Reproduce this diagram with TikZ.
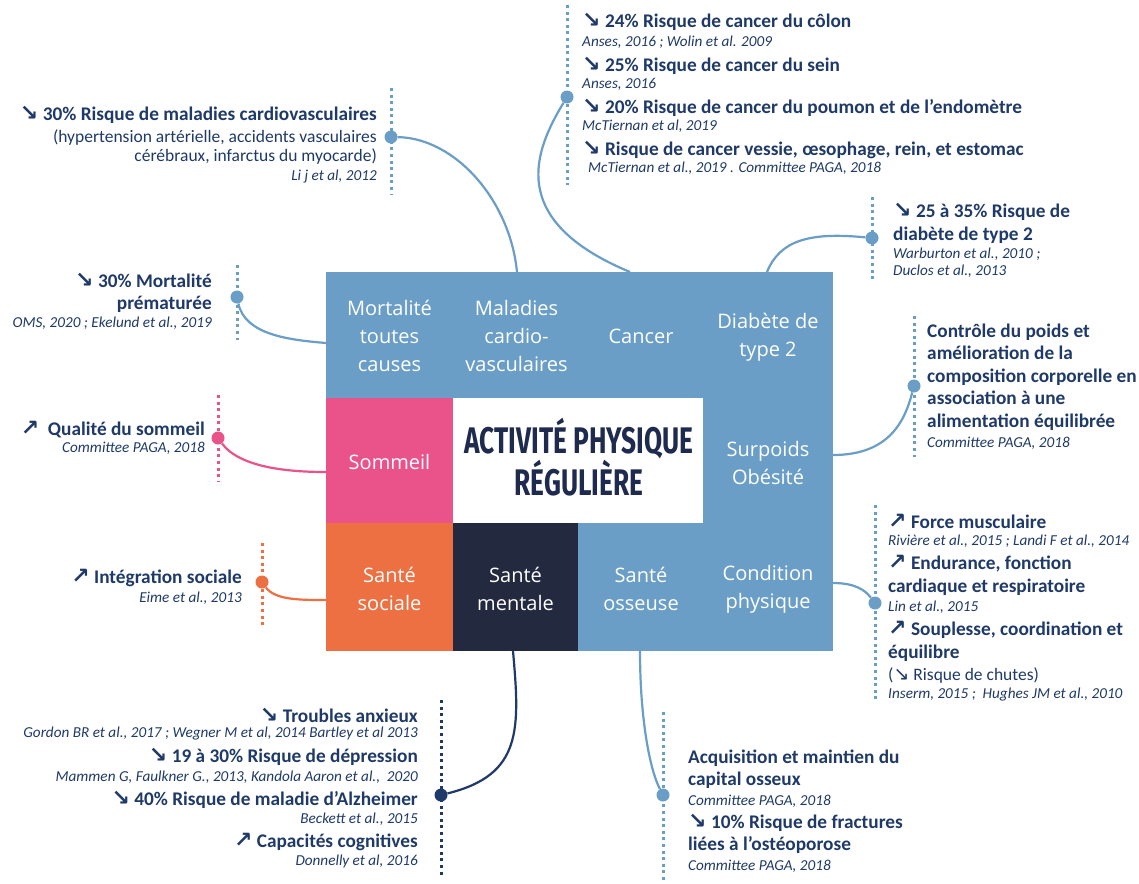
\documentclass[tikz,border=0pt]{standalone}
\usepackage{fontspec}
\setmainfont{Carlito}
\newfontfamily\boxfont{Open Sans}
\newfontfamily\arrowfont{DejaVu Sans}
\newfontfamily\titlefont{Fira Sans}
\definecolor{apblue}{HTML}{6A9EC6}
\definecolor{appink}{HTML}{E9538A}
\definecolor{aporange}{HTML}{EC7042}
\definecolor{apnavybox}{HTML}{232A40}
\definecolor{aptext}{HTML}{1F3A68}
\definecolor{aptitle}{HTML}{1E2B4F}
\newcommand\dnarr{{\arrowfont\bfseries\fontsize{22}{22}\selectfont ↘}}
\newcommand\uparr{{\arrowfont\bfseries\fontsize{22}{22}\selectfont ↗}}
\begin{document}
\begin{tikzpicture}[x=1pt,y=-1pt,
 hd/.style={font=\bfseries\fontsize{19.3}{21}\selectfont,text=aptext,inner sep=0pt},
 rg/.style={font=\fontsize{17.5}{19}\selectfont,text=aptext,inner sep=0pt},
 ct/.style={font=\itshape\fontsize{15.2}{16}\selectfont,text=aptext,inner sep=0pt},
 cell/.style={draw=none,inner sep=0pt,anchor=north west},
 lbl/.style={font=\boxfont\fontsize{20}{28}\selectfont,text=white,align=center,inner sep=0pt},
 titlestyle/.style={font=\titlefont\bfseries\fontsize{37}{42}\selectfont,text=aptitle,align=center,inner sep=0pt},
 dotline/.style={line width=3pt,dash pattern=on 3pt off 3.6pt},
 conn/.style={line width=2.2pt},
 pin/.style={circle,inner sep=0pt,minimum size=13pt},
]
\useasboundingbox (0,0) rectangle (1139,883);
\fill[white] (0,0) rectangle (1139,883);

% ---- central block ----
\node[cell,fill=apblue,minimum width=507pt,minimum height=379pt] (frame) at (326,272) {};
\node[cell,fill=appink,minimum width=127pt,minimum height=125pt] (sommeil) at (326,398) {};
\node[cell,fill=white,minimum width=250pt,minimum height=125pt] (centre) at (453,398) {};
\node[cell,fill=aporange,minimum width=127pt,minimum height=128pt] (social) at (326,523) {};
\node[cell,fill=apnavybox,minimum width=125pt,minimum height=128pt] (mental) at (453,523) {};

\node[lbl] (lMort) at (389.5,336) {Mortalité\\toutes\\causes};
\node[lbl] (lCard) at (516.5,336) {Maladies\\cardio-\\vasculaires};
\node[lbl] (lCanc) at (641,336) {Cancer};
\node[lbl] (lDiab) at (768,337) {Diabète de\\type 2};
\node[lbl] (lSom) at (389.5,462) {Sommeil};
\node[lbl] (lSurp) at (768,463) {Surpoids\\Obésité};
\node[lbl] (lSoc) at (389.5,589) {Santé\\sociale};
\node[lbl] (lMen) at (515.5,589) {Santé\\mentale};
\node[lbl] (lOss) at (641,589) {Santé\\osseuse};
\node[lbl] (lCond) at (768,589) {Condition\\physique};
\node[titlestyle] (title) at (579,457) {\scalebox{0.71}[1]{ACTIVITÉ PHYSIQUE}\\\scalebox{0.71}[1]{RÉGULIÈRE}};

% ---- edge coordinates ----
\coordinate (eCard) at (517,272);
\coordinate (eCanc) at (630,272);
\coordinate (eDiab) at (767,272);
\coordinate (eMort) at (326,343);
\coordinate (eSom) at (326,472);
\coordinate (eSoc) at (326,600);
\coordinate (eSurp) at (833,455);
\coordinate (eCond) at (833,583);
\coordinate (eMen) at (513,651);
\coordinate (eOss) at (640,651);

% ---- dotted guides ----
\coordinate (gCardT) at (391,88);  \coordinate (gCardB) at (391,195);
\coordinate (gCancT) at (567,5);   \coordinate (gCancB) at (567,185);
\coordinate (gDiabT) at (872,197); \coordinate (gDiabB) at (872,282);
\coordinate (gMortT) at (237,265); \coordinate (gMortB) at (237,340);
\coordinate (gSomT) at (218,395);  \coordinate (gSomB) at (218,482);
\coordinate (gSocT) at (262,543);  \coordinate (gSocB) at (262,628);
\coordinate (gSurpT) at (914,316); \coordinate (gSurpB) at (914,457);
\coordinate (gCondT) at (875,505); \coordinate (gCondB) at (875,702);
\coordinate (gMenT) at (441,700);  \coordinate (gMenB) at (441,878);
\coordinate (gOssT) at (663,712);  \coordinate (gOssB) at (663,883);

\draw[dotline,apblue] (gCardT) -- (gCardB);
\draw[dotline,apblue] (gCancT) -- (gCancB);
\draw[dotline,apblue] (gDiabT) -- (gDiabB);
\draw[dotline,apblue] (gMortT) -- (gMortB);
\draw[dotline,appink] (gSomT) -- (gSomB);
\draw[dotline,aporange] (gSocT) -- (gSocB);
\draw[dotline,apblue] (gSurpT) -- (gSurpB);
\draw[dotline,apblue] (gCondT) -- (gCondB);
\draw[dotline,aptext] (gMenT) -- (gMenB);
\draw[dotline,apblue] (gOssT) -- (gOssB);

% ---- pins ----
\node[pin,fill=apblue] (pCard) at (391,137) {};
\node[pin,fill=apblue] (pCanc) at (567,97) {};
\node[pin,fill=apblue] (pDiab) at (872,238) {};
\node[pin,fill=apblue] (pMort) at (237,297) {};
\node[pin,fill=appink] (pSom) at (218,438) {};
\node[pin,fill=aporange] (pSoc) at (262,582) {};
\node[pin,fill=apblue] (pSurp) at (914,386) {};
\node[pin,fill=apblue] (pCond) at (875,603) {};
\node[pin,fill=aptext] (pMen) at (441,795) {};
\node[pin,fill=apblue] (pOss) at (663,795) {};

% ---- connectors ----
\draw[conn,apblue] (pCard) .. controls (455,138) and (510,200) .. (eCard);
\draw[conn,apblue] (pCanc) .. controls (535,150) and (505,220) .. (eCanc);
\draw[conn,apblue] (pDiab) .. controls (810,232) and (780,240) .. (eDiab);
\draw[conn,apblue] (pMort) .. controls (245,335) and (290,340) .. (eMort);
\draw[conn,appink] (pSom) .. controls (240,468) and (290,472) .. (eSom);
\draw[conn,aporange] (pSoc) .. controls (275,600) and (300,600) .. (eSoc);
\draw[conn,apblue] (eSurp) .. controls (890,455) and (905,420) .. (pSurp);
\draw[conn,apblue] (eCond) .. controls (855,583) and (865,590) .. (pCond);
\draw[conn,aptext] (eMen) .. controls (520,730) and (522,775) .. (pMen);
\draw[conn,apblue] (eOss) .. controls (640,720) and (650,770) .. (pOss);

% ---- cardio ----
\node[hd,anchor=base east] (tCard1) at (377,120) {\dnarr\ 30\% Risque de maladies cardiovasculaires};
\node[rg,anchor=base east] (tCard2) at (377,142) {(hypertension artérielle, accidents vasculaires};
\node[rg,anchor=base east] (tCard3) at (377,161) {cérébraux, infarctus du myocarde)};
\node[ct,anchor=base east] (tCard4) at (377,180) {Li j et al, 2012};

% ---- cancer ----
\node[hd,anchor=base west] (tCanc1) at (582,28) {\dnarr\ 24\% Risque de cancer du côlon};
\node[ct,anchor=base west] (tCanc2) at (582,46) {Anses, 2016 ; Wolin et al. 2009};
\node[hd,anchor=base west] (tCanc3) at (582,71) {\dnarr\ 25\% Risque de cancer du sein};
\node[ct,anchor=base west] (tCanc4) at (582,88) {Anses, 2016};
\node[hd,anchor=base west] (tCanc5) at (582,113) {\dnarr\ 20\% Risque de cancer du poumon et de l'endomètre};
\node[ct,anchor=base west] (tCanc6) at (582,130) {McTiernan et al, 2019};
\node[hd,anchor=base west] (tCanc7) at (582,155) {\dnarr\ Risque de cancer vessie, œsophage, rein, et estomac};
\node[ct,anchor=base west] (tCanc8) at (588,172) {McTiernan et al., 2019 . Committee PAGA, 2018};

% ---- diabete ----
\node[hd,anchor=base west] (tDiab1) at (893,217) {\dnarr\ 25 à 35\% Risque de};
\node[hd,anchor=base west] (tDiab2) at (893,240) {diabète de type 2};
\node[ct,anchor=base west] (tDiab3) at (893,258) {Warburton et al., 2010 ;};
\node[ct,anchor=base west] (tDiab4) at (893,275) {Duclos et al., 2013};

% ---- mortalite ----
\node[hd,anchor=base east] (tMort1) at (212,287) {\dnarr\ 30\% Mortalité};
\node[hd,anchor=base east] (tMort2) at (212,309) {prématurée};
\node[ct,anchor=base east] (tMort3) at (212,327) {OMS, 2020 ; Ekelund et al., 2019};

% ---- sommeil ----
\node[hd,anchor=base east] (tSom1) at (205,435) {\uparr\ \ Qualité du sommeil};
\node[ct,anchor=base east] (tSom2) at (205,452) {Committee PAGA, 2018};

% ---- social ----
\node[hd,anchor=base east] (tSoc1) at (242,583) {\uparr\ Intégration sociale};
\node[ct,anchor=base east] (tSoc2) at (242,602) {Eime et al., 2013};

% ---- surpoids ----
\node[hd,anchor=base west] (tSurp1) at (927,337) {Contrôle du poids et};
\node[hd,anchor=base west] (tSurp2) at (927,359) {amélioration de la};
\node[hd,anchor=base west] (tSurp3) at (927,382) {composition corporelle en};
\node[hd,anchor=base west] (tSurp4) at (927,404) {association à une};
\node[hd,anchor=base west] (tSurp5) at (927,427) {alimentation équilibrée};
\node[ct,anchor=base west] (tSurp6) at (927,447) {Committee PAGA, 2018};

% ---- condition ----
\node[hd,anchor=base west] (tCond1) at (888,528) {\uparr\ Force musculaire};
\node[ct,anchor=base west] (tCond2) at (888,545) {Rivière et al., 2015 ; Landi F et al., 2014};
\node[hd,anchor=base west] (tCond3) at (888,569) {\uparr\ Endurance, fonction};
\node[hd,anchor=base west] (tCond4) at (888,592) {cardiaque et respiratoire};
\node[ct,anchor=base west] (tCond5) at (888,611) {Lin et al., 2015};
\node[hd,anchor=base west] (tCond6) at (888,635) {\uparr\ Souplesse, coordination et};
\node[hd,anchor=base west] (tCond7) at (888,658) {équilibre};
\node[rg,anchor=base west] (tCond8) at (888,680) {({\arrowfont\fontsize{19}{19}\selectfont ↘} Risque de chutes)};
\node[ct,anchor=base west] (tCond9) at (888,698) {Inserm, 2015 ;\ \ Hughes JM et al., 2010};

% ---- mentale ----
\node[hd,anchor=base east] (tMen1) at (418,722) {\dnarr\ Troubles anxieux};
\node[ct,anchor=base east] (tMen2) at (418,737) {Gordon BR et al., 2017 ; Wegner M et al, 2014 Bartley et al 2013};
\node[hd,anchor=base east] (tMen3) at (418,762) {\dnarr\ 19 à 30\% Risque de dépression};
\node[ct,anchor=base east] (tMen4) at (418,781) {Mammen G, Faulkner G., 2013, Kandola Aaron et al.,\ \ 2020};
\node[hd,anchor=base east] (tMen5) at (418,805) {\dnarr\ 40\% Risque de maladie d’Alzheimer};
\node[ct,anchor=base east] (tMen6) at (418,823) {Beckett et al., 2015};
\node[hd,anchor=base east] (tMen7) at (418,847) {\uparr\ Capacités cognitives};
\node[ct,anchor=base east] (tMen8) at (418,865) {Donnelly et al, 2016};

% ---- osseuse ----
\node[hd,anchor=base west] (tOss1) at (688,763) {Acquisition et maintien du};
\node[hd,anchor=base west] (tOss2) at (688,785) {capital osseux};
\node[ct,anchor=base west] (tOss3) at (688,805) {Committee PAGA, 2018};
\node[hd,anchor=base west] (tOss4) at (688,828) {\dnarr\ 10\% Risque de fractures};
\node[hd,anchor=base west] (tOss5) at (688,850) {liées à l'ostéoporose};
\node[ct,anchor=base west] (tOss6) at (688,870) {Committee PAGA, 2018};
\end{tikzpicture}
\end{document}
